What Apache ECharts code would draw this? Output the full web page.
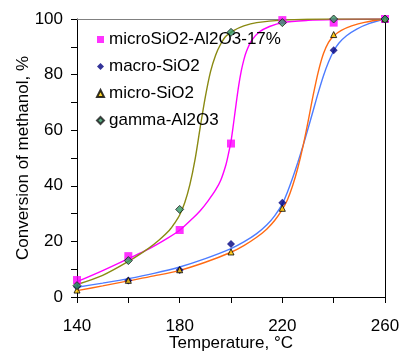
<!DOCTYPE html>
<html>
<head>
<meta charset="utf-8">
<script src="https://cdn.jsdelivr.net/npm/echarts@6/dist/echarts.min.js"></script>
<style>html,body{margin:0;padding:0;background:#fff}#c{width:401px;height:351px}</style>
</head>
<body>
<div id="c"></div>
<script>
// Measured points (temperature, °C)
var temps = [140, 160, 180, 200, 220, 240, 260];
var microSiO2Al2O3 = [6.1, 14.7, 24.1, 55.2, 99.6, 98.7, 100];
var macroSiO2 = [3.7, 5.9, 9.7, 19.1, 33.9, 88.8, 100];
var microSiO2 = [2.5, 6.0, 9.8, 16.2, 31.9, 94.4, 100];
var gammaAl2O3 = [4.1, 13.1, 31.5, 95.2, 98.7, 100, 100];

// Fitted curves: [temperature, conversion]
var curveGamma = [[140,4.5],[150,7.8],[160,12.8],[168,17.6],[172,20.5],[176,24],[178,26.5],[180,29.5],[182,34],[184,40.5],[186,49.5],[188,61],[190,72],[192,81],[194,87],[196,91],[198,93.8],[201,95.8],[205,97.5],[210,98.7],[220,99.6],[240,100],[260,100]];
var curveMicroAl = [[140,5.5],[150,9.5],[160,13.8],[168,17.3],[175,21],[180,24],[185,28.2],[188,31],[191,34.5],[194,38.5],[196,42],[198,47.5],[199,51.5],[200,56],[201,62.5],[202,69.5],[203,76],[204,81.3],[205,85.3],[206,88.3],[208,92.2],[211,95.3],[215,97.3],[220,98.7],[230,99.5],[240,99.8],[260,100]];
var curveMacro = [[140,3.5],[150,5],[160,6.6],[170,8.5],[180,10.8],[190,13.8],[200,17.4],[205,19.8],[210,22.8],[214,26],[217,29.2],[220,33.5],[222,37.8],[224,42.8],[226,48.3],[228,54.2],[230,60.5],[232,67],[234,73.5],[236,79.5],[238,84.5],[240,88.5],[242,91.3],[245,94],[249,96.4],[254,98.4],[260,100]];
var curveMicro = [[140,2.3],[150,4],[160,5.8],[170,7.6],[180,9.6],[190,12.5],[200,16.1],[205,18.5],[210,21.5],[214,24.5],[217,27.5],[220,31.5],[222,35],[224,40],[226,46.3],[228,54],[230,63],[232,72.5],[234,81],[236,87.5],[238,91.6],[240,93.9],[243,95.9],[247,97.5],[252,98.8],[260,100]];

var xLabels = [140, 180, 220, 260];
var yLabels = [0, 20, 40, 60, 80, 100];

function pts(vals){ return temps.map(function(t,i){ return [t, vals[i]]; }); }
var FONT = '"Liberation Sans", Arial, sans-serif';
var FS = 17;

var chart = echarts.init(document.getElementById('c'), null, {renderer:'canvas'});
function lineSeries(data, color){
  return {type:'line', data:data, xAxisIndex:0, yAxisIndex:0, smooth:0.3, showSymbol:false, symbol:'none',
    lineStyle:{color:color, width:1.4}, itemStyle:{color:color}, silent:true, z:2, legendHoverLink:false};
}
function scatterSeries(name, vals, symbol, size, color, border){
  return {type:'scatter', name:name, data:pts(vals), symbol:symbol, symbolSize:size, clip:false, z:5,
    itemStyle:{color:color, borderColor:border||color, borderWidth:border?1:0}};
}
chart.setOption({
  animation:false,
  backgroundColor:'#fff',
  textStyle:{fontFamily:FONT},
  grid:{left:77, right:16, top:19, bottom:54, show:false, containLabel:false, outerBoundsMode:'none'},
  legend:{
    orient:'vertical', left:91, top:26, itemWidth:7, itemHeight:7, itemGap:10,
    textStyle:{fontFamily:FONT, fontSize:FS, color:'#000'},
    data:['microSiO2-Al2O3-17%','macro-SiO2','micro-SiO2','gamma-Al2O3']
  },
  xAxis:[{
    type:'value', min:140, max:260, interval:20,
    name:'Temperature, °C', nameLocation:'middle', nameGap:38, nameMoveOverlap:false,
    nameTextStyle:{fontFamily:FONT, fontSize:FS, color:'#000'},
    axisLine:{lineStyle:{color:'#000', width:1}},
    axisTick:{show:true, length:6, lineStyle:{color:'#000'}},
    axisLabel:{fontFamily:FONT, fontSize:FS, color:'#000', margin:21,
      formatter:function(v){ return xLabels.indexOf(v) >= 0 ? String(v) : ''; }},
    splitLine:{show:false}
  },{
    type:'value', min:140, max:260, position:'top',
    axisLine:{show:true, onZero:false, lineStyle:{color:'#808080', width:1}},
    axisTick:{show:false}, axisLabel:{show:false}, splitLine:{show:false}
  }],
  yAxis:[{
    type:'value', min:0, max:100, interval:10,
    name:'Conversion of methanol, %', nameLocation:'middle', nameGap:45, nameMoveOverlap:false,
    nameTextStyle:{fontFamily:FONT, fontSize:FS, color:'#000'},
    axisLine:{lineStyle:{color:'#000', width:1}},
    axisTick:{show:true, length:6, lineStyle:{color:'#000'}},
    axisLabel:{fontFamily:FONT, fontSize:FS, color:'#000', margin:14,
      formatter:function(v){ return yLabels.indexOf(v) >= 0 ? String(v) : ''; }},
    splitLine:{show:false}
  },{
    type:'value', min:0, max:100, position:'right',
    axisLine:{show:true, onZero:false, lineStyle:{color:'#000', width:1}},
    axisTick:{show:false}, axisLabel:{show:false}, splitLine:{show:false}
  }],
  series:[
    lineSeries(curveMacro, '#4D7CFF'),
    lineSeries(curveMicro, '#FF6A13'),
    lineSeries(curveMicroAl, '#FF00FF'),
    lineSeries(curveGamma, '#8A8A12'),
    scatterSeries('microSiO2-Al2O3-17%', microSiO2Al2O3, 'rect', 8, '#FF00FF'),
    scatterSeries('macro-SiO2', macroSiO2, 'diamond', 8, '#000080'),
    scatterSeries('micro-SiO2', microSiO2, 'triangle', 6, '#FFCC00', '#000'),
    scatterSeries('gamma-Al2O3', gammaAl2O3, 'diamond', 8, '#339966', '#1A1A1A')
  ]
});
</script>
</body>
</html>
